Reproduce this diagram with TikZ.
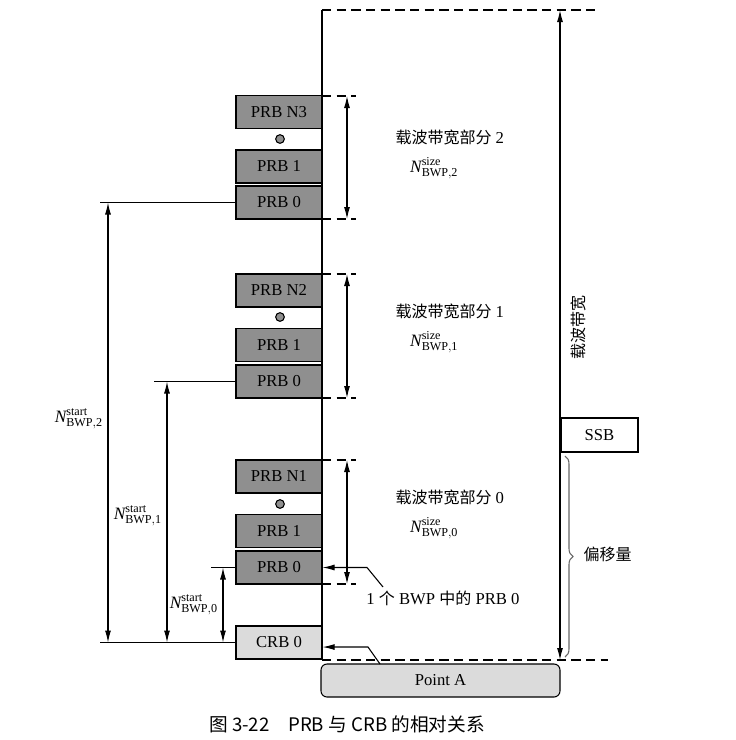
\documentclass[tikz,border=0pt]{standalone}
\usepackage{fontspec}
\usepackage{amsmath}
\setmainfont{Liberation Serif}
\newfontfamily\cjk{Noto Sans CJK SC}
\usetikzlibrary{arrows.meta,decorations.pathreplacing}
\definecolor{prbgray}{gray}{0.56}
\definecolor{crbgray}{gray}{0.86}
\newcommand{\Nstart}[1]{$\textit{N}^{\text{start}}_{\text{BWP},\text{#1}}$}
\newcommand{\Nsize}[1]{$\textit{N}^{\text{size}}_{\text{BWP},\text{#1}}$}
\tikzset{
  prb/.style={draw, fill=prbgray, minimum width=64.5pt, minimum height=24.75pt, inner sep=0pt, font=\fontsize{12.5}{14}\selectfont},
  crb/.style={prb, fill=crbgray},
  dim/.style={{Latex[length=9pt,width=4.5pt]}-{Latex[length=9pt,width=4.5pt]}},
  arr/.style={-{Latex[length=9pt,width=4.5pt]}},
  dashline/.style={dash pattern=on 7pt off 4pt},
  dot/.style={circle, draw, fill=prbgray, minimum size=6.5pt, inner sep=0pt},
  txt/.style={font=\fontsize{12.5}{14}\selectfont, inner sep=0pt},
  cjktxt/.style={font=\cjk\fontsize{12}{14}\selectfont, inner sep=0pt},
  nlbl/.style={font=\fontsize{13}{15}\selectfont, inner sep=3.5pt}
}
\begin{document}
\begin{tikzpicture}[x=0.75pt, y=-0.75pt, line width=0.8pt]
\useasboundingbox (0,0) rectangle (736,740);
\node[prb] (n3) at (279,112) {PRB N3};
\node[dot] (d3) at (280,139) {};
\node[prb] (p13) at (279,166.5) {PRB 1};
\node[prb] (p03) at (279,202.5) {PRB 0};
\node[prb] (n2) at (279,290.5) {PRB N2};
\node[dot] (d2) at (280,317) {};
\node[prb] (p12) at (279,345) {PRB 1};
\node[prb] (p02) at (279,381.5) {PRB 0};
\node[prb] (n1) at (279,476.5) {PRB N1};
\node[dot] (d1) at (280,504) {};
\node[prb] (p11) at (279,531) {PRB 1};
\node[prb] (p01) at (279,567.5) {PRB 0};
\node[crb] (crb0) at (279,642.5) {CRB 0};
\node[draw, fill=crbgray, rounded corners=4.5pt, minimum width=179.25pt, minimum height=24.75pt, inner sep=0pt, font=\fontsize{12.5}{14}\selectfont] (pointa) at (440.5,680.5) {Point A};
\node[draw, fill=white, minimum width=57.75pt, minimum height=25.5pt, inner sep=0pt, font=\fontsize{12.5}{14}\selectfont] (ssb) at (599.5,435) {SSB};
\draw (322,10) -- (322,660);
\draw[dashline] (322,10) -- (600,10);
\draw[dashline] (322,660) -- (608,660);
\draw[dim] (560,10) -- (560,660);
\node[rotate=90, cjktxt] (cbw) at (578,327) {载波带宽};
\draw[decorate, decoration={brace, amplitude=6pt}, gray!80!black] (565,456) -- (565,657);
\node[cjktxt, anchor=west] (offs) at (583,554) {偏移量};
\draw[dashline] (322,96) -- (356,96);
\draw[dashline] (322,219) -- (356,219);
\draw[dim] (347,96) -- (347,219);
\node[txt, anchor=west] (g2) at (395,137) {{\cjk\fontsize{12}{14}\selectfont 载波带宽部分} 2};
\node[nlbl, anchor=west] (sz2) at (405,168) {\Nsize{2}};
\draw[dashline] (322,274) -- (356,274);
\draw[dashline] (322,398) -- (356,398);
\draw[dim] (347,274) -- (347,398);
\node[txt, anchor=west] (g1) at (395,311) {{\cjk\fontsize{12}{14}\selectfont 载波带宽部分} 1};
\node[nlbl, anchor=west] (sz1) at (405,342) {\Nsize{1}};
\draw[dashline] (322,460) -- (356,460);
\draw[dashline] (322,584) -- (356,584);
\draw[dim] (347,460) -- (347,584);
\node[txt, anchor=west] (g0) at (395,497) {{\cjk\fontsize{12}{14}\selectfont 载波带宽部分} 0};
\node[nlbl, anchor=west] (sz0) at (405,528) {\Nsize{0}};
\coordinate (s2) at (100,202.5);
\coordinate (s1) at (154,381.5);
\coordinate (s0) at (211,567.5);
\coordinate (sc) at (100,642.5);
\draw (p03.west) -- (s2);
\draw (p02.west) -- (s1);
\draw (p01.west) -- (s0);
\draw (crb0.west) -- (sc);
\draw[dim] (108,202.5) -- (108,642.5) node[midway, left, nlbl, yshift=3pt] (st2) {\Nstart{2}};
\draw[dim] (167,381.5) -- (167,642.5) node[midway, left, nlbl, yshift=-3pt] (st1) {\Nstart{1}};
\draw[dim] (223,567.5) -- (223,642.5) node[midway, left, nlbl] (st0) {\Nstart{0}};
\node[txt] (bwplbl) at (443,598) {1 {\cjk\fontsize{12}{14}\selectfont 个} BWP {\cjk\fontsize{12}{14}\selectfont 中的} PRB 0};
\coordinate (k1) at (383,587);
\coordinate (k2) at (367,567.5);
\draw[arr] (k1) -- (k2) -- (p01.east);
\coordinate (k3) at (380,664);
\coordinate (k4) at (368,647);
\draw[arr] (k3) -- (k4) -- ([yshift=-3.4pt]crb0.east);
\node[font=\cjk\fontsize{14}{16}\selectfont] (cap) at (347,724) {图 3-22\quad PRB 与 CRB 的相对关系};
\end{tikzpicture}
\end{document}
